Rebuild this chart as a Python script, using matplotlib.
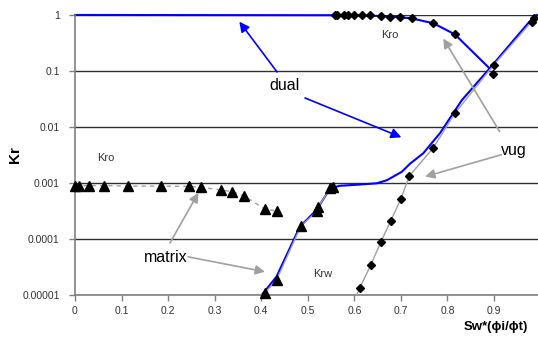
import numpy as np
import matplotlib
matplotlib.use("Agg")
import matplotlib.pyplot as plt
from matplotlib.ticker import FixedLocator, FixedFormatter

plt.rcParams["font.family"] = ["Liberation Sans", "DejaVu Sans"]

# matrix curves (triangles)
mat_kro_sw = [0.0, 0.009, 0.031, 0.063, 0.114, 0.185, 0.244, 0.271, 0.313, 0.338, 0.363, 0.408, 0.433]
mat_kro = [0.0009, 0.0009, 0.0009, 0.0009, 0.00088, 0.00088, 0.00087, 0.00084, 0.00075, 0.0007,
           0.00059, 0.00034, 0.00032]
mat_krw_sw = [0.408, 0.433, 0.485, 0.519, 0.523, 0.548, 0.555]
mat_krw = [1.1e-5, 1.86e-5, 1.7e-4, 3.1e-4, 3.8e-4, 8.0e-4, 8.4e-4]

# vug curves (diamonds)
vug_kro_sw = [0.558, 0.563, 0.578, 0.586, 0.599, 0.616, 0.633, 0.657, 0.677, 0.697, 0.724, 0.770,
              0.816, 0.898]
vug_kro = [1.0, 1.0, 1.0, 1.0, 1.0, 0.99, 0.98, 0.96, 0.93, 0.91, 0.87, 0.71, 0.45, 0.087]
vug_krw_sw = [0.605, 0.612, 0.635, 0.657, 0.678, 0.700, 0.718, 0.770, 0.816, 0.900, 0.981, 0.986]
vug_krw = [1.0e-5, 1.35e-5, 3.4e-5, 8.9e-5, 2.1e-4, 5.2e-4, 1.33e-3, 4.3e-3, 0.0176, 0.13, 0.76, 0.87]

# dual porosity model (blue)
dual_kro_sw = [0.0, 0.60, 0.655, 0.69, 0.723, 0.770, 0.816, 0.891]
dual_kro = [1.0, 0.99, 0.96, 0.92, 0.87, 0.71, 0.45, 0.11]
dual_krw_sw = [0.401, 0.408, 0.433, 0.483, 0.519, 0.548, 0.569, 0.608, 0.648, 0.670, 0.702, 0.719,
               0.748, 0.784, 0.831, 0.891, 0.974, 0.992]
dual_krw_log = [-5.0, -4.93, -4.67, -3.78, -3.48, -3.095, -3.05, -3.03, -3.006, -2.95, -2.80, -2.66,
                -2.47, -2.11, -1.52, -0.95, -0.14, 0.0]

x_ticks = [0, 0.1, 0.2, 0.3, 0.4, 0.5, 0.6, 0.7, 0.8, 0.9, 1.0]
x_labels = ["0", "0.1", "0.2", "0.3", "0.4", "0.5", "0.6", "0.7", "0.8", "0.9", "1"]
y_ticks = [1e-5, 1e-4, 1e-3, 1e-2, 1e-1, 1]
y_labels = ["0.00001", "0.0001", "0.001", "0.01", "0.1", "1"]

fig = plt.figure(figsize=(5.38, 3.39), dpi=100)
ax = fig.add_axes([0.1394, 0.1298, 0.8654, 0.826])
ax.set_yscale("log")
ax.set_xlim(0, 1)
ax.set_ylim(1e-5, 1)

for yv in y_ticks:
    ax.axhline(yv, color="#303030", lw=1.0, zorder=1)

grey = "#a0a0a0"
ax.plot(mat_kro_sw, mat_kro, color=grey, ls=(0, (3, 3)), lw=1.0, marker="^", ms=7.5,
        mfc="black", mec="black", zorder=3, clip_on=False)
ax.plot(mat_krw_sw, mat_krw, color=grey, lw=1.0, marker="^", ms=7.5,
        mfc="black", mec="black", zorder=3, clip_on=False)
ax.plot(vug_kro_sw, vug_kro, ls="none", marker="D", ms=4.5,
        mfc="black", mec="black", zorder=3, clip_on=False)
ax.plot(vug_krw_sw, vug_krw, color=grey, lw=1.0, marker="D", ms=4.5, markevery=slice(1, None),
        mfc="black", mec="black", zorder=3, clip_on=False)

ax.plot(dual_kro_sw, dual_kro, color="#0000ff", lw=1.5, zorder=2, clip_on=False)
ax.plot(dual_krw_sw, 10 ** np.array(dual_krw_log), color="#0000ff", lw=1.5, zorder=2, clip_on=False)

# labels and arrows
blue_arrow = dict(arrowstyle="-|>", color="#0000ff", lw=1.2, mutation_scale=15, shrinkA=0, shrinkB=0)
grey_arrow = dict(arrowstyle="-|>", color="#a0a0a0", lw=1.2, mutation_scale=14, shrinkA=0, shrinkB=0)
ax.annotate("", xy=(0.353, 0.76), xytext=(0.434, 0.096), arrowprops=blue_arrow)
ax.annotate("", xy=(0.701, 10 ** -2.184), xytext=(0.494, 10 ** -1.482), arrowprops=blue_arrow)
ax.annotate("", xy=(0.791, 0.38), xytext=(0.912, 0.0083), arrowprops=grey_arrow)
ax.annotate("", xy=(0.752, 0.0013), xytext=(0.916, 0.0032), arrowprops=grey_arrow)
ax.annotate("", xy=(0.265, 6.7e-4), xytext=(0.204, 8.5e-5), arrowprops=grey_arrow)
ax.annotate("", xy=(0.408, 2.6e-5), xytext=(0.243, 4.8e-5), arrowprops=grey_arrow)

big = dict(fontsize=11.5, ha="center", va="center", color="black", zorder=5)
ax.text(0.449, 10 ** -1.268, "dual", **big)
ax.text(0.942, 10 ** -2.42, "vug", **big)
ax.text(0.195, 10 ** -4.33, "matrix", **big)

small = dict(fontsize=8, ha="center", va="center", color="#333333", zorder=5)
ax.text(0.067, 10 ** -2.554, "Kro", **small)
ax.text(0.676, 10 ** -0.357, "Kro", **small)
ax.text(0.533, 10 ** -4.63, "Krw", **small)

ax.xaxis.set_major_locator(FixedLocator(x_ticks))
ax.xaxis.set_major_formatter(FixedFormatter(x_labels))
ax.yaxis.set_major_locator(FixedLocator(y_ticks))
ax.yaxis.set_major_formatter(FixedFormatter(y_labels))
ax.yaxis.set_minor_locator(FixedLocator([]))
ax.tick_params(axis="both", direction="out", length=4, width=1, color="#808080",
               labelsize=7.5, labelcolor="#333333")
ax.tick_params(axis="y", pad=7)
ax.tick_params(axis="x", pad=4)

for side in ["top", "right"]:
    ax.spines[side].set_visible(False)
for side in ["left", "bottom"]:
    ax.spines[side].set_color("#808080")
    ax.spines[side].set_linewidth(1.2)

fig.text(15 / 538, 1 - 155 / 339, "Kr", rotation=90, fontsize=11, fontweight="bold",
         ha="center", va="center")
fig.text(528 / 538, 1 - 327 / 339, "Sw*(ϕi/ϕt)", fontsize=9.5, fontweight="bold",
         ha="right", va="center")

fig.savefig("out.png", dpi=100)
